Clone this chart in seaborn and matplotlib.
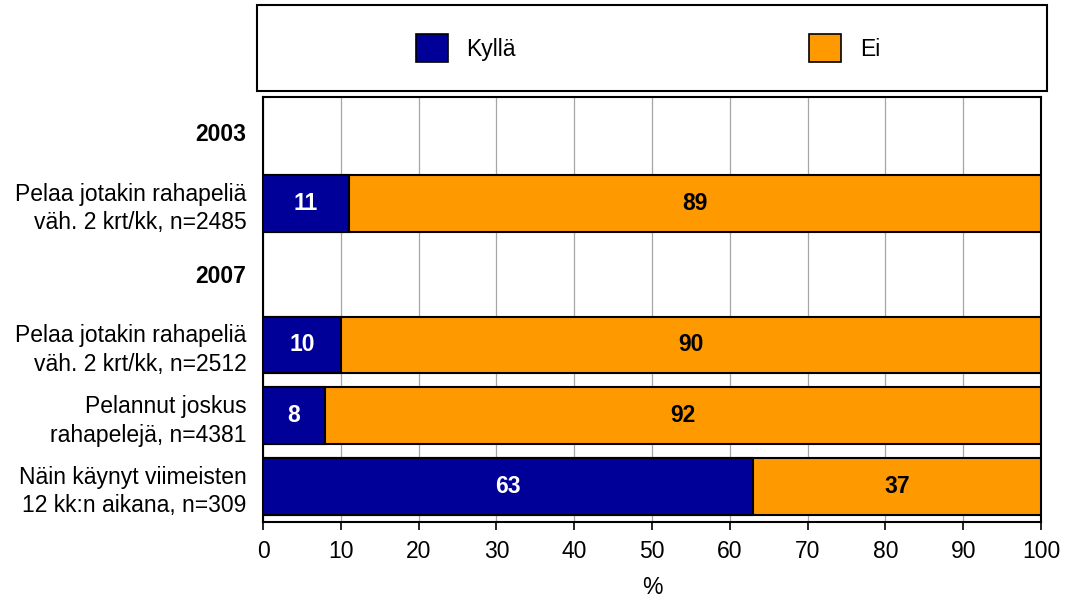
import numpy as np
import pandas as pd
import matplotlib
matplotlib.use("Agg")
import matplotlib.pyplot as plt
from matplotlib.patches import Rectangle, Patch
import seaborn as sns

# rows from top to bottom; year rows are headers without bars
rows = ["2003",
        "Pelaa jotakin rahapeliä\nväh. 2 krt/kk, n=2485",
        "2007",
        "Pelaa jotakin rahapeliä\nväh. 2 krt/kk, n=2512",
        "Pelannut joskus\nrahapelejä, n=4381",
        "Näin käynyt viimeisten\n12 kk:n aikana, n=309"]
headers = ["2003", "2007"]
data_rows = [rows[1], rows[3], rows[4], rows[5]]
kylla = [11, 10, 8, 63]
ei = [89, 90, 92, 37]

c_kylla = "#000099"
c_ei = "#FF9900"
fs = 16.5

sns.set_theme(style="white")
plt.rcParams["font.family"] = ["Liberation Sans", "DejaVu Sans"]
plt.rcParams["text.color"] = "black"
plt.rcParams["xtick.color"] = "black"
plt.rcParams["ytick.color"] = "black"
plt.rcParams["axes.labelcolor"] = "black"

df = pd.DataFrame({"rivi": data_rows, "Kyllä": kylla, "Ei": ei})
df["yht"] = df["Kyllä"] + df["Ei"]

fig = plt.figure(figsize=(10.71, 5.99), dpi=100)
ax = fig.add_axes([263 / 1071, 77 / 599, 778 / 1071, 425 / 599])

# orange = full stack, blue drawn on top
sns.barplot(data=df, y="rivi", x="yht", order=rows, orient="h", color=c_ei,
            saturation=1, width=0.8, edgecolor="black", linewidth=1.5, ax=ax, zorder=3)
sns.barplot(data=df, y="rivi", x="Kyllä", order=rows, orient="h", color=c_kylla,
            saturation=1, width=0.8, edgecolor="black", linewidth=1.5, ax=ax, zorder=4)

for _, r in df.iterrows():
    y = rows.index(r["rivi"])
    ax.text(r["Kyllä"] / 2, y, f"{r['Kyllä']}", ha="center", va="center",
            color="white", fontsize=fs, fontweight="bold", zorder=5)
    ax.text(r["Kyllä"] + r["Ei"] / 2, y, f"{r['Ei']}", ha="center", va="center",
            color="black", fontsize=fs, fontweight="bold", zorder=5)

ax.set_xlim(0, 100)
ax.set_ylim(len(rows) - 0.5, -0.5)
ax.set_xticks(range(0, 101, 10))
ax.xaxis.grid(True, color="#a6a6a6", linewidth=0.9, zorder=0)
ax.yaxis.grid(False)
ax.set_axisbelow(True)
ax.set_xlabel("%", fontsize=fs, labelpad=9)
ax.set_ylabel("")
ax.tick_params(axis="x", bottom=True, length=6, width=1.2, color="black",
               labelsize=fs, pad=7)
ax.tick_params(axis="y", left=False, length=0, labelsize=fs, pad=12)
for lab in ax.get_yticklabels():
    lab.set_linespacing(1.3)
    if lab.get_text() in headers:
        lab.set_fontweight("bold")
for s in ax.spines.values():
    s.set_color("black")
    s.set_linewidth(1.5)

# legend box at top
fig.patches.append(Rectangle((257 / 1071, 508 / 599), 790 / 1071, 86 / 599,
                             transform=fig.transFigure, fill=False,
                             edgecolor="black", linewidth=1.5))
handles = [Patch(facecolor=c_kylla, edgecolor="black", linewidth=1.2, label="Kyllä"),
           Patch(facecolor=c_ei, edgecolor="black", linewidth=1.2, label="Ei")]
fig.legend(handles=handles, loc="center", bbox_to_anchor=(648 / 1071, 551 / 599),
           ncol=2, frameon=False, fontsize=fs, handlelength=1.4, handleheight=1.5,
           handletextpad=0.8, columnspacing=12.8)

fig.savefig("out.png", dpi=100)
